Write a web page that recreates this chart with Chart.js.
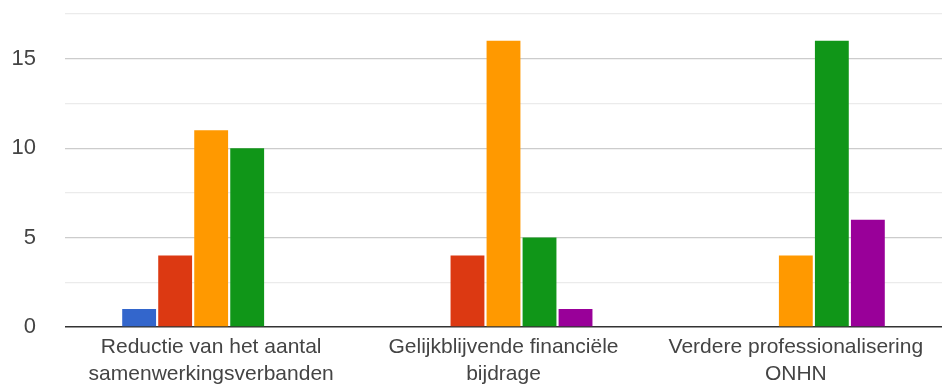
<!DOCTYPE html>
<html>
<head>
<meta charset="utf-8">
<script src="https://cdn.jsdelivr.net/npm/chart.js@4"></script>
<style>
  html, body { margin: 0; padding: 0; background: #fff; }
  #wrap { width: 942px; height: 387px; }
</style>
</head>
<body>
<div id="wrap"><canvas id="bars" width="942" height="387"></canvas></div>
<script>
  // answers per statement
  var categories = [
    ['Reductie van het aantal', 'samenwerkingsverbanden'],
    ['Gelijkblijvende financiële', 'bijdrage'],
    ['Verdere professionalisering', 'ONHN']
  ];
  var blueValues = [1, 0, 0];
  var redValues = [4, 4, 0];
  var orangeValues = [11, 16, 4];
  var greenValues = [10, 5, 16];
  var purpleValues = [0, 1, 6];
  var yTicks = [0, 5, 10, 15];

  var seriesList = [
    { data: blueValues, color: '#3366cc' },
    { data: redValues, color: '#dc3912' },
    { data: orangeValues, color: '#ff9900' },
    { data: greenValues, color: '#109618' },
    { data: purpleValues, color: '#990099' }
  ];

  var datasets = seriesList.map(function (s) {
    return {
      data: s.data,
      backgroundColor: s.color,
      borderWidth: 0,
      categoryPercentage: 0.616,
      barPercentage: 0.94
    };
  });

  var ctx = document.getElementById('bars');
  var myChart = new Chart(ctx, {
    type: 'bar',
    data: { labels: categories, datasets: datasets },
    options: {
      responsive: false,
      animation: false,
      layout: { padding: { top: 14, right: 0, left: 0, bottom: 0 } },
      plugins: { legend: { display: false }, tooltip: { enabled: false } },
      scales: {
        x: {
          afterFit: function (scale) {
            scale.height = 60;
            scale.paddingLeft = 0;
            scale.paddingRight = 0;
          },
          grid: { display: false },
          border: { display: false },
          ticks: {
            color: '#444',
            padding: -1,
            maxRotation: 0,
            autoSkip: false,
            font: { family: '"Liberation Sans", Arial, sans-serif', size: 21, lineHeight: 1.29 }
          }
        },
        y: {
          min: 0,
          max: 17.5,
          afterFit: function (scale) {
            scale.width = 65;
            scale.paddingTop = 0;
            scale.paddingBottom = 0;
          },
          border: { display: false },
          grid: {
            drawTicks: false,
            color: function (c) {
              var v = c.tick.value;
              if (v === 0) return '#333';
              return yTicks.indexOf(v) >= 0 ? '#cccccc' : '#ebebeb';
            },
            lineWidth: function (c) { return c.tick.value === 0 ? 1.5 : 1.2; }
          },
          ticks: {
            stepSize: 2.5,
            padding: 29,
            color: '#444',
            font: { family: '"Liberation Sans", Arial, sans-serif', size: 22 },
            callback: function (v) { return yTicks.indexOf(v) >= 0 ? String(v) : ''; }
          }
        }
      }
    }
  });
</script>
</body>
</html>
